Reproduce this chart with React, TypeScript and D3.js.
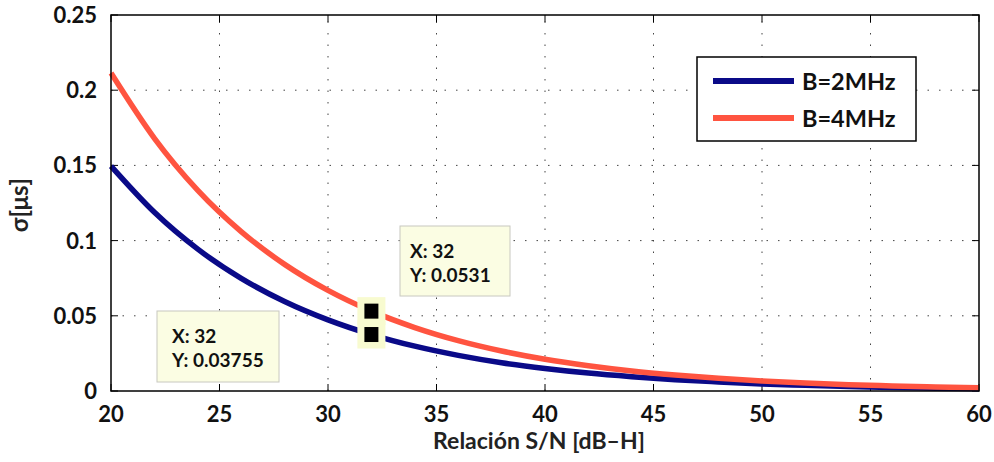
import React from "react";
import * as d3 from "d3";

// Signal-to-noise ratio in dB-Hz
const snr = [20, 22, 24, 26, 28, 30, 32, 34, 36, 38, 40, 42, 44, 46, 48, 50, 52, 54, 56, 58, 60];
// Delay jitter (µs) for each bandwidth
const sigma2MHz = [0.1495, 0.1188, 0.0943, 0.0749, 0.0595, 0.0473, 0.03755, 0.0298, 0.0237, 0.0188, 0.0150, 0.0119, 0.0095, 0.0075, 0.0060, 0.0047, 0.0038, 0.0030, 0.0024, 0.0019, 0.0015];
const sigma4MHz = [0.2114, 0.1680, 0.1334, 0.1060, 0.0842, 0.0669, 0.0531, 0.0422, 0.0335, 0.0266, 0.0211, 0.0168, 0.0133, 0.0106, 0.0084, 0.0067, 0.0053, 0.0042, 0.0034, 0.0027, 0.0021];

const seriesNames = ["B=2MHz", "B=4MHz"];
const seriesColors = ["#0a0a88", "#ff5440"];

const xTicks = [20, 25, 30, 35, 40, 45, 50, 55, 60];
const yTicks = [0, 0.05, 0.1, 0.15, 0.2, 0.25];

// Data cursor readouts: [x, y] per series
const tip2MHz = [32, 0.03755];
const tip4MHz = [32, 0.0531];

const W = 994;
const H = 462;
const M = { left: 111, right: 979, top: 15, bottom: 391 };
const FONT = "Lato, 'Open Sans', sans-serif";

export default function App() {
  const x = d3.scaleLinear().domain([20, 60]).range([M.left, M.right]);
  const y = d3.scaleLinear().domain([0, 0.25]).range([M.bottom, M.top]);

  const line = d3
    .line<number>()
    .x((_, i) => x(snr[i]))
    .y((d) => y(d))
    .curve(d3.curveMonotoneX);

  const series = [sigma2MHz, sigma4MHz];

  const tickLen = 7;

  const tipBox = (
    tip: number[],
    bx: number,
    by: number,
    bw: number,
    bh: number,
    pad: number,
    key: string
  ) => (
    <g key={key}>
      <rect x={bx} y={by} width={bw} height={bh} fill="#fbfde3" stroke="#c8c8c0" strokeWidth={1} />
      <text x={bx + pad} y={by + 32} fontFamily={FONT} fontWeight={700} fontSize={19} fill="#111">
        {`X: ${tip[0]}`}
      </text>
      <text x={bx + pad} y={by + 56} fontFamily={FONT} fontWeight={700} fontSize={19} fill="#111">
        {`Y: ${tip[1]}`}
      </text>
    </g>
  );

  const marker = (tip: number[], key: string) => (
    <rect key={key} x={x(tip[0]) - 14} y={y(tip[1]) - 14} width={28} height={28} fill="#f8fbd0" />
  );
  const markerDot = (tip: number[], key: string) => (
    <rect key={key} x={x(tip[0]) - 7} y={y(tip[1]) - 7.5} width={14} height={15} fill="#000" />
  );

  return (
    <svg
      width={W}
      height={H}
      style={{ position: "absolute", left: 0, top: 0, background: "#fff" }}
    >
      <rect x={0} y={0} width={W} height={H} fill="#fff" />

      {/* dotted grid */}
      <g stroke="#444" strokeWidth={1} strokeDasharray="1.5 10">
        {xTicks.slice(1, -1).map((t) => (
          <line key={`gx${t}`} x1={x(t)} x2={x(t)} y1={M.bottom} y2={M.top} />
        ))}
        {yTicks.slice(1, -1).map((t) => (
          <line key={`gy${t}`} x1={M.left} x2={M.right} y1={y(t)} y2={y(t)} />
        ))}
      </g>

      {/* tick marks on all four sides */}
      <g stroke="#000" strokeWidth={1}>
        {xTicks.map((t) => (
          <g key={`tx${t}`}>
            <line x1={x(t)} x2={x(t)} y1={M.bottom} y2={M.bottom - tickLen} />
            <line x1={x(t)} x2={x(t)} y1={M.top} y2={M.top + tickLen} />
          </g>
        ))}
        {yTicks.map((t) => (
          <g key={`ty${t}`}>
            <line x1={M.left} x2={M.left + tickLen} y1={y(t)} y2={y(t)} />
            <line x1={M.right} x2={M.right - tickLen} y1={y(t)} y2={y(t)} />
          </g>
        ))}
      </g>

      {/* curves */}
      {series.map((s, i) => (
        <path
          key={seriesNames[i]}
          d={line(s) ?? ""}
          fill="none"
          stroke={seriesColors[i]}
          strokeWidth={5.5}
        />
      ))}

      {/* data cursors */}
      {marker(tip4MHz, "m4")}
      {marker(tip2MHz, "m2")}
      {markerDot(tip4MHz, "d4")}
      {markerDot(tip2MHz, "d2")}
      {tipBox(tip2MHz, 157, 311, 122, 71, 15, "t2")}
      {tipBox(tip4MHz, 400, 226, 110, 70, 10, "t4")}

      {/* axes box */}
      <rect
        x={M.left}
        y={M.top}
        width={M.right - M.left}
        height={M.bottom - M.top}
        fill="none"
        stroke="#000"
        strokeWidth={1.5}
      />

      {/* tick labels */}
      <g fontFamily={FONT} fontWeight={700} fontSize={22} fill="#111">
        {xTicks.map((t) => (
          <text key={`lx${t}`} x={x(t)} y={422} textAnchor="middle">
            {d3.format("d")(t)}
          </text>
        ))}
        {yTicks.map((t) => (
          <text key={`ly${t}`} x={97} y={y(t) + 8} textAnchor="end">
            {t === 0 ? "0" : d3.format("")(t)}
          </text>
        ))}
      </g>

      {/* axis titles */}
      <text
        x={539}
        y={449}
        textAnchor="middle"
        fontFamily={FONT}
        fontWeight={700}
        fontSize={23}
        fill="#222"
      >
        Relación S/N [dB–H]
      </text>
      <text
        transform={`translate(28, 205) rotate(-90)`}
        textAnchor="middle"
        fontFamily={FONT}
        fontWeight={700}
        fontSize={24}
        fill="#222"
      >
        σ[μs]
      </text>

      {/* legend */}
      <g>
        <rect x={697} y={57} width={219} height={84} fill="#fff" stroke="#000" strokeWidth={1.5} />
        {seriesNames.map((name, i) => (
          <g key={`lg${name}`}>
            <line
              x1={713}
              x2={794}
              y1={81 + i * 37}
              y2={81 + i * 37}
              stroke={seriesColors[i]}
              strokeWidth={6}
            />
            <text
              x={802}
              y={81 + i * 37 + 8.5}
              fontFamily={FONT}
              fontWeight={700}
              fontSize={23.5}
              fill="#111"
            >
              {name}
            </text>
          </g>
        ))}
      </g>
    </svg>
  );
}
